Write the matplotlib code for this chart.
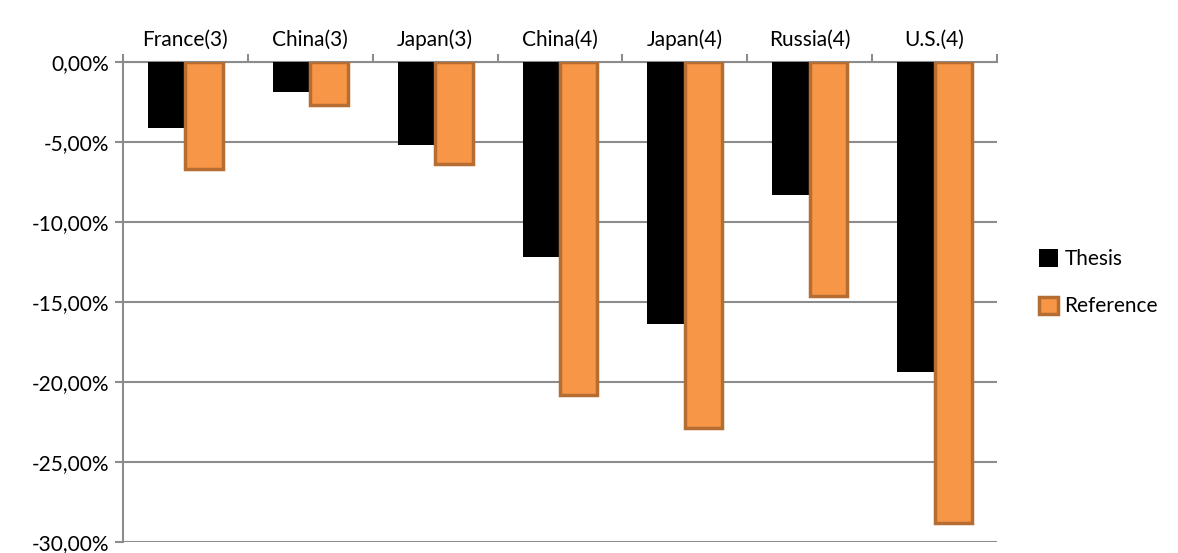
import numpy as np
import matplotlib.pyplot as plt

categories = ["France(3)", "China(3)", "Japan(3)", "China(4)", "Japan(4)", "Russia(4)", "U.S.(4)"]
thesis = [-4.1, -1.9, -5.2, -12.2, -16.4, -8.3, -19.4]
reference = [-6.7, -2.7, -6.4, -20.8, -22.9, -14.6, -28.8]
yticks = [0, -5, -10, -15, -20, -25, -30]

plt.rcParams['font.family'] = ['Lato', 'DejaVu Sans']

fig = plt.figure(figsize=(11.78, 5.53), dpi=100)
ax = fig.add_axes([123 / 1178, 1 - 542 / 553, (997 - 123) / 1178, 480 / 553])

x = np.arange(len(categories))
w = 0.3
ax.bar(x - w / 2, thesis, w, color="black", label="Thesis", zorder=3)
ax.bar(x + w / 2, reference, w, color="#f79646", edgecolor="#b66d31", linewidth=2.5,
       label="Reference", zorder=3)

ax.set_xlim(-0.5, len(categories) - 0.5)
ax.set_ylim(-30, 0)
ax.set_yticks(yticks)
ax.set_yticklabels([f"{v:.2f}%".replace(".", ",") for v in yticks], fontsize=15)
ax.yaxis.grid(True, color="#8c8c8c", linewidth=1.5, zorder=0)
ax.tick_params(axis="y", length=6, color="#8c8c8c", width=1.5, pad=4)

ax.xaxis.tick_top()
ax.set_xticks(x)
ax.set_xticklabels(categories, fontsize=15)
ax.tick_params(axis="x", length=0, pad=9)
ax.set_xticks(np.arange(len(categories) + 1) - 0.5, minor=True)
ax.tick_params(axis="x", which="minor", length=6, color="#8c8c8c", width=1.5, top=True, bottom=False)

for s in ["right", "bottom"]:
    ax.spines[s].set_visible(False)
ax.spines["left"].set_color("#8c8c8c")
ax.spines["left"].set_linewidth(1.5)
ax.spines["top"].set_color("#8c8c8c")
ax.spines["top"].set_linewidth(1.5)

ax.legend(loc="center left", bbox_to_anchor=(1.027, 0.54), frameon=False, fontsize=15,
          handlelength=0.9, handleheight=0.9, handletextpad=0.3, labelspacing=1.3)

fig.savefig("out.png", dpi=100)
